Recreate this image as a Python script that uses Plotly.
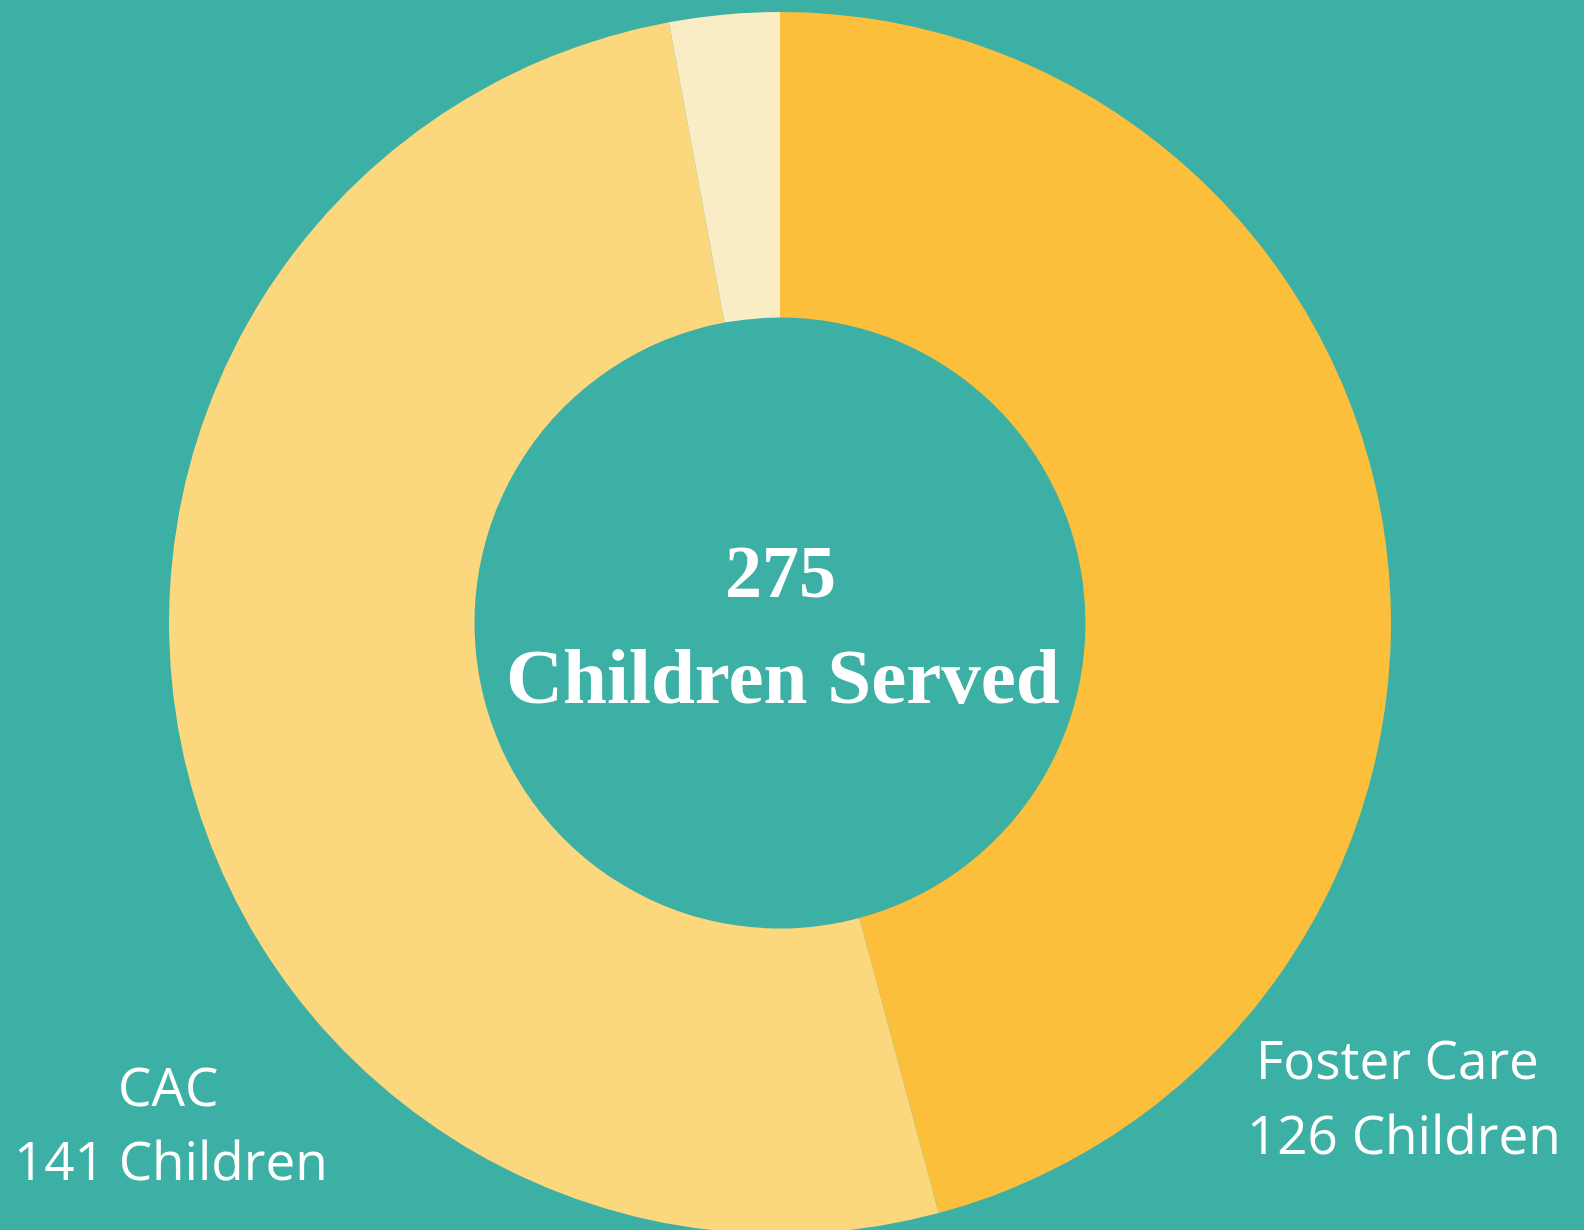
import plotly.graph_objects as go

# Data
labels = ["Foster Care", "CAC", "Other"]
values = [126, 141, 8]
slice_colors = ["#FBBF3B", "#FBD77E", "#FAEDC6"]
center_title = "Children Served"

BG = "#3DB0A5"
W, H = 1584, 1234
MT = 12

def px(x):
    return x / W

def py(y):
    return (H - y) / (H - MT)

fig = go.Figure(
    go.Pie(
        labels=labels,
        values=values,
        marker=dict(colors=slice_colors, line=dict(width=0)),
        hole=0.5,
        sort=False,
        direction="clockwise",
        rotation=0,
        textinfo="none",
        hoverinfo="skip",
        showlegend=False,
        domain=dict(x=[0, 1560 / W], y=[0, 1]),
    )
)

total = sum(values)
sans = "Open Sans"
serif = "Liberation Serif"

annotations = [
    dict(text=f"<b>{total}</b>", x=px(780), y=py(572), font=dict(family=serif, size=74, color="white")),
    dict(text=f"<b>{center_title}</b>", x=px(783), y=py(676), font=dict(family=serif, size=79, color="white")),
    dict(text=labels[1], x=px(168), y=py(1085), font=dict(family=sans, size=53, color="white")),
    dict(text=f"{values[1]} Children", x=px(171), y=py(1159), font=dict(family=sans, size=53, color="white")),
    dict(text=labels[0], x=px(1397), y=py(1058), font=dict(family=sans, size=53, color="white")),
    dict(text=f"{values[0]} Children", x=px(1404), y=py(1133), font=dict(family=sans, size=53, color="white")),
]
for a in annotations:
    a.update(xref="paper", yref="paper", xanchor="center", yanchor="middle", showarrow=False)

fig.update_layout(
    width=W,
    height=H,
    margin=dict(l=0, r=0, t=MT, b=0, pad=0),
    paper_bgcolor=BG,
    plot_bgcolor=BG,
    annotations=annotations,
)

fig.write_html(
    "out.html",
    config={"displayModeBar": False},
    post_script=f"document.body.style.margin='0';document.body.style.overflow='hidden';document.body.style.backgroundColor='{BG}';",
)
